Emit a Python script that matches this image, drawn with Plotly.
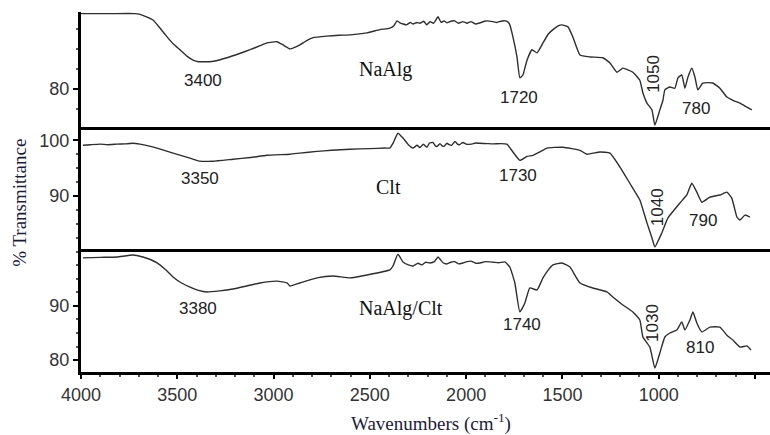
import plotly.graph_objects as go
from plotly.subplots import make_subplots

# ---------------- data ----------------
wn_naalg = [4000, 3849, 3720, 3694, 3660, 3626, 3590, 3553, 3520, 3486, 3450, 3418, 3390, 3367, 3335,
            3304, 3242, 3180, 3122, 3070, 3034, 2982, 2951, 2915, 2890,
            2863, 2830, 2795, 2723, 2660, 2603, 2515, 2448, 2396, 2375, 2359, 2344, 2310, 2290, 2276,
            2255, 2240, 2220, 2205, 2188, 2170, 2160, 2146, 2130, 2115, 2100, 2080, 2060, 2040, 2017,
            1995, 1975, 1950, 1928, 1905, 1890, 1861, 1840, 1820, 1799, 1785, 1773, 1757, 1736,
            1721, 1705, 1684, 1658, 1632, 1601, 1575, 1549, 1520, 1503, 1471, 1446, 1409, 1357, 1290,
            1253, 1217, 1186, 1160, 1134, 1098, 1082, 1061, 1035, 1020, 994, 978, 968, 942, 916, 900,
            880, 864, 848, 828, 812, 797, 771, 740, 719, 682, 646, 615, 578, 542, 516]
t_naalg = [89.4, 89.4, 89.4, 89.3, 89.0, 88.6, 87.6, 86.5, 85.6, 84.9, 84.1, 83.6, 83.4, 83.4, 83.4,
           83.5, 83.9, 84.4, 84.9, 85.4, 85.75, 85.9, 85.5, 85.0, 85.2,
           85.5, 86.0, 86.4, 86.6, 86.7, 86.75, 87.0, 87.4, 87.6, 87.9, 88.5, 88.25, 88.0, 88.3, 88.1,
           88.3, 88.2, 88.45, 88.0, 88.4, 88.2, 88.5, 89.0, 88.3, 88.5, 88.25, 88.45, 88.5, 88.2, 88.4,
           88.2, 88.4, 88.1, 88.25, 88.45, 88.5, 88.4, 88.3, 88.45, 88.5, 88.4, 88.0, 86.5, 84.0,
           81.4, 81.75, 83.6, 84.9, 84.5, 85.75, 86.8, 87.4, 87.9, 88.0, 87.75, 86.5, 84.25, 84.0, 83.9,
           83.25, 82.1, 82.6, 82.4, 82.1, 81.1, 79.5, 78.25, 77.4, 75.5, 77.4, 78.6, 79.9, 80.25, 80.1, 81.4,
           81.75, 80.1, 81.5, 82.6, 81.5, 79.9, 80.75, 80.8, 80.75, 80.1, 79.0, 78.6, 78.25, 77.75, 77.4]

wn_clt = [3990, 3950, 3901, 3860, 3813, 3770, 3730, 3694, 3650, 3605, 3522, 3434, 3382, 3315, 3211,
          3120, 3034, 2915, 2863, 2775, 2700, 2603, 2500, 2420, 2396, 2380, 2354, 2328, 2300, 2276,
          2255, 2240, 2222, 2204, 2190, 2172, 2160, 2150, 2136, 2125, 2115, 2100, 2088, 2075, 2058,
          2045, 2035, 2017, 2000, 1975, 1950, 1928, 1890, 1860, 1820, 1788, 1757, 1721, 1684, 1653,
          1617, 1580, 1497, 1409, 1373, 1305, 1253, 1201, 1150, 1098, 1061, 1035, 1020, 984, 952,
          890, 854, 828, 802, 776, 734, 682, 646, 620, 594, 578, 552, 526]
t_clt = [99.1, 99.2, 99.3, 99.2, 99.3, 99.35, 99.45, 99.3, 99.0, 98.6, 97.7, 96.8, 96.25, 96.25, 96.6,
         96.9, 97.3, 97.5, 97.7, 98.0, 98.2, 98.4, 98.5, 98.6, 98.6, 99.45, 101.25, 100.4, 99.2, 98.6,
         99.1, 98.7, 99.3, 98.75, 99.5, 99.6, 99.0, 98.9, 99.4, 99.0, 98.9, 99.45, 99.2, 99.1, 99.8,
         99.3, 99.2, 99.6, 99.3, 99.3, 99.5, 99.45, 99.4, 99.35, 99.4, 99.3, 97.9, 96.4, 97.1, 97.3,
         97.9, 98.6, 98.75, 98.2, 97.5, 97.9, 97.7, 95.2, 92.3, 89.3, 85.2, 82.5, 80.9, 83.4, 86.1,
         88.75, 90.2, 92.3, 90.7, 88.9, 89.8, 90.2, 90.7, 89.6, 86.25, 85.7, 86.6, 86.25]

wn_mix = [3990, 3900, 3813, 3730, 3678, 3640, 3605, 3560, 3522, 3480, 3434, 3390, 3346, 3280, 3211,
          3140, 3071, 2982, 2930, 2915, 2863, 2775, 2692, 2603, 2515, 2396, 2380, 2354, 2328, 2300,
          2276, 2250, 2230, 2210, 2188, 2165, 2146, 2120, 2100, 2080, 2060, 2040, 2017, 1995, 1975,
          1950, 1928, 1900, 1860, 1830, 1799, 1773, 1747, 1721, 1695, 1669, 1632, 1601, 1575, 1549,
          1503, 1461, 1409, 1342, 1269, 1238, 1186, 1134, 1098, 1082, 1046, 1020, 994, 968, 942,
          906, 880, 864, 838, 822, 802, 776, 734, 682, 646, 615, 578, 542, 521]
t_mix = [98.9, 99.0, 99.07, 99.44, 99.07, 98.6, 97.96, 96.7, 95.37, 94.3, 93.5, 92.9, 92.6, 92.8, 93.15,
         93.7, 94.26, 94.6, 94.26, 93.7, 94.26, 95.2, 95.55, 95.2, 95.74, 96.67, 97.4, 99.6, 98.15, 97.6,
         97.4, 97.9, 97.6, 98.1, 97.96, 98.2, 99.07, 98.0, 97.78, 98.1, 98.2, 97.8, 97.96, 98.2, 98.3,
         97.9, 97.96, 98.2, 98.1, 98.0, 98.15, 97.2, 94.26, 88.9, 90.56, 93.33, 92.96, 95.2, 96.6, 97.6,
         97.96, 97.2, 94.26, 93.33, 92.6, 91.67, 90.19, 88.9, 87.4, 84.26, 82.4, 78.5, 81.3, 84.26, 85.0,
         85.56, 87.04, 85.56, 87.4, 88.9, 86.85, 85.2, 86.1, 86.1, 84.6, 83.7, 82.4, 82.6, 81.85]

x_ticks = [4000, 3500, 3000, 2500, 2000, 1500, 1000, 500]
y_ticks = [[80], [90, 100], [80, 90]]

labels_top = ["3400", "NaAlg", "1720", "1050", "780"]
labels_mid = ["3350", "Clt", "1730", "1040", "790"]
labels_bot = ["3380", "NaAlg/Clt", "1740", "1030", "810"]

# ---------------- figure ----------------
fig = make_subplots(rows=3, cols=1, shared_xaxes=True, vertical_spacing=0,
                    row_heights=[0.319, 0.340, 0.341])

line_style = dict(color="#2e2e2e", width=1.4, shape="spline", smoothing=0.4)
for r, (xs, ys) in enumerate([(wn_naalg, t_naalg), (wn_clt, t_clt), (wn_mix, t_mix)], start=1):
    fig.add_trace(go.Scatter(x=xs, y=ys, mode="lines", line=line_style,
                             showlegend=False, hoverinfo="skip"), row=r, col=1)

num_font = dict(family="Liberation Sans, Arial, sans-serif", size=17, color="#222222")
name_font = dict(family="Liberation Serif, Times New Roman, serif", size=20, color="#111111")

ann_specs = [
    (1, labels_top, [(3367, 81.1, 0), (2421, 82.4, 0), (1726, 79.0, 0), (1024, 81.9, -90), (806, 77.6, 0)]),
    (2, labels_mid, [(3382, 93.2, 0), (2401, 91.6, 0), (1731, 93.75, 0), (1009, 88.0, -90), (771, 85.7, 0)]),
    (3, labels_bot, [(3392, 89.6, 0), (2338, 89.6, 0), (1710, 86.5, 0), (1030, 86.85, -90), (786, 82.4, 0)]),
]
for row, texts, poss in ann_specs:
    xref = "x" if row == 1 else f"x{row}"
    yref = "y" if row == 1 else f"y{row}"
    for i, (txt, (ax_, ay_, ang)) in enumerate(zip(texts, poss)):
        fig.add_annotation(x=ax_, y=ay_, xref=xref, yref=yref, text=txt, showarrow=False,
                           textangle=ang, font=name_font if i == 1 else num_font,
                           xanchor="center", yanchor="middle")

y_ranges = [[75.29, 89.6], [80.48, 102.4], [77.78, 100.5]]
for r in range(1, 4):
    fig.update_yaxes(range=y_ranges[r - 1], row=r, col=1,
                     tickvals=y_ticks[r - 1], ticks="outside", ticklen=5, tickwidth=1.5,
                     tickcolor="black", showline=True, linewidth=3, linecolor="black",
                     showgrid=False, zeroline=False,
                     tickfont=dict(family="Liberation Sans, Arial, sans-serif", size=18, color="#333333"),
                     minor=dict(dtick=2.5, tick0=0, ticks="outside", ticklen=2, tickcolor="#555555"))
    fig.update_xaxes(range=[4000, 422], row=r, col=1, showline=True, linewidth=3, linecolor="black",
                     showgrid=False, zeroline=False, showticklabels=(r == 3),
                     ticks="outside" if r == 3 else "", tickvals=x_ticks if r == 3 else None,
                     ticklen=4, tickwidth=1.5, tickcolor="black")

fig.update_xaxes(row=3, col=1,
                 tickfont=dict(family="Liberation Sans, Arial, sans-serif", size=18, color="#333333"),
                 minor=dict(dtick=100, ticks="outside", ticklen=2, tickcolor="#555555"))

fig.add_annotation(x=-0.0885, y=0.47, xref="paper", yref="paper", text="% Transmittance",
                   textangle=-90, showarrow=False, xanchor="center", yanchor="middle",
                   font=dict(family="Liberation Serif, Times New Roman, serif", size=19, color="#1c1c3a"))
fig.add_annotation(x=0.508, y=-0.139, xref="paper", yref="paper",
                   text="Wavenumbers (cm<sup>-1</sup>)", showarrow=False,
                   xanchor="center", yanchor="middle",
                   font=dict(family="Liberation Serif, Times New Roman, serif", size=19, color="#1c1c3a"))

fig.update_layout(width=770, height=435, margin=dict(l=81, r=0, t=12, b=63),
                  plot_bgcolor="white", paper_bgcolor="white")

fig.write_html("out.html")
